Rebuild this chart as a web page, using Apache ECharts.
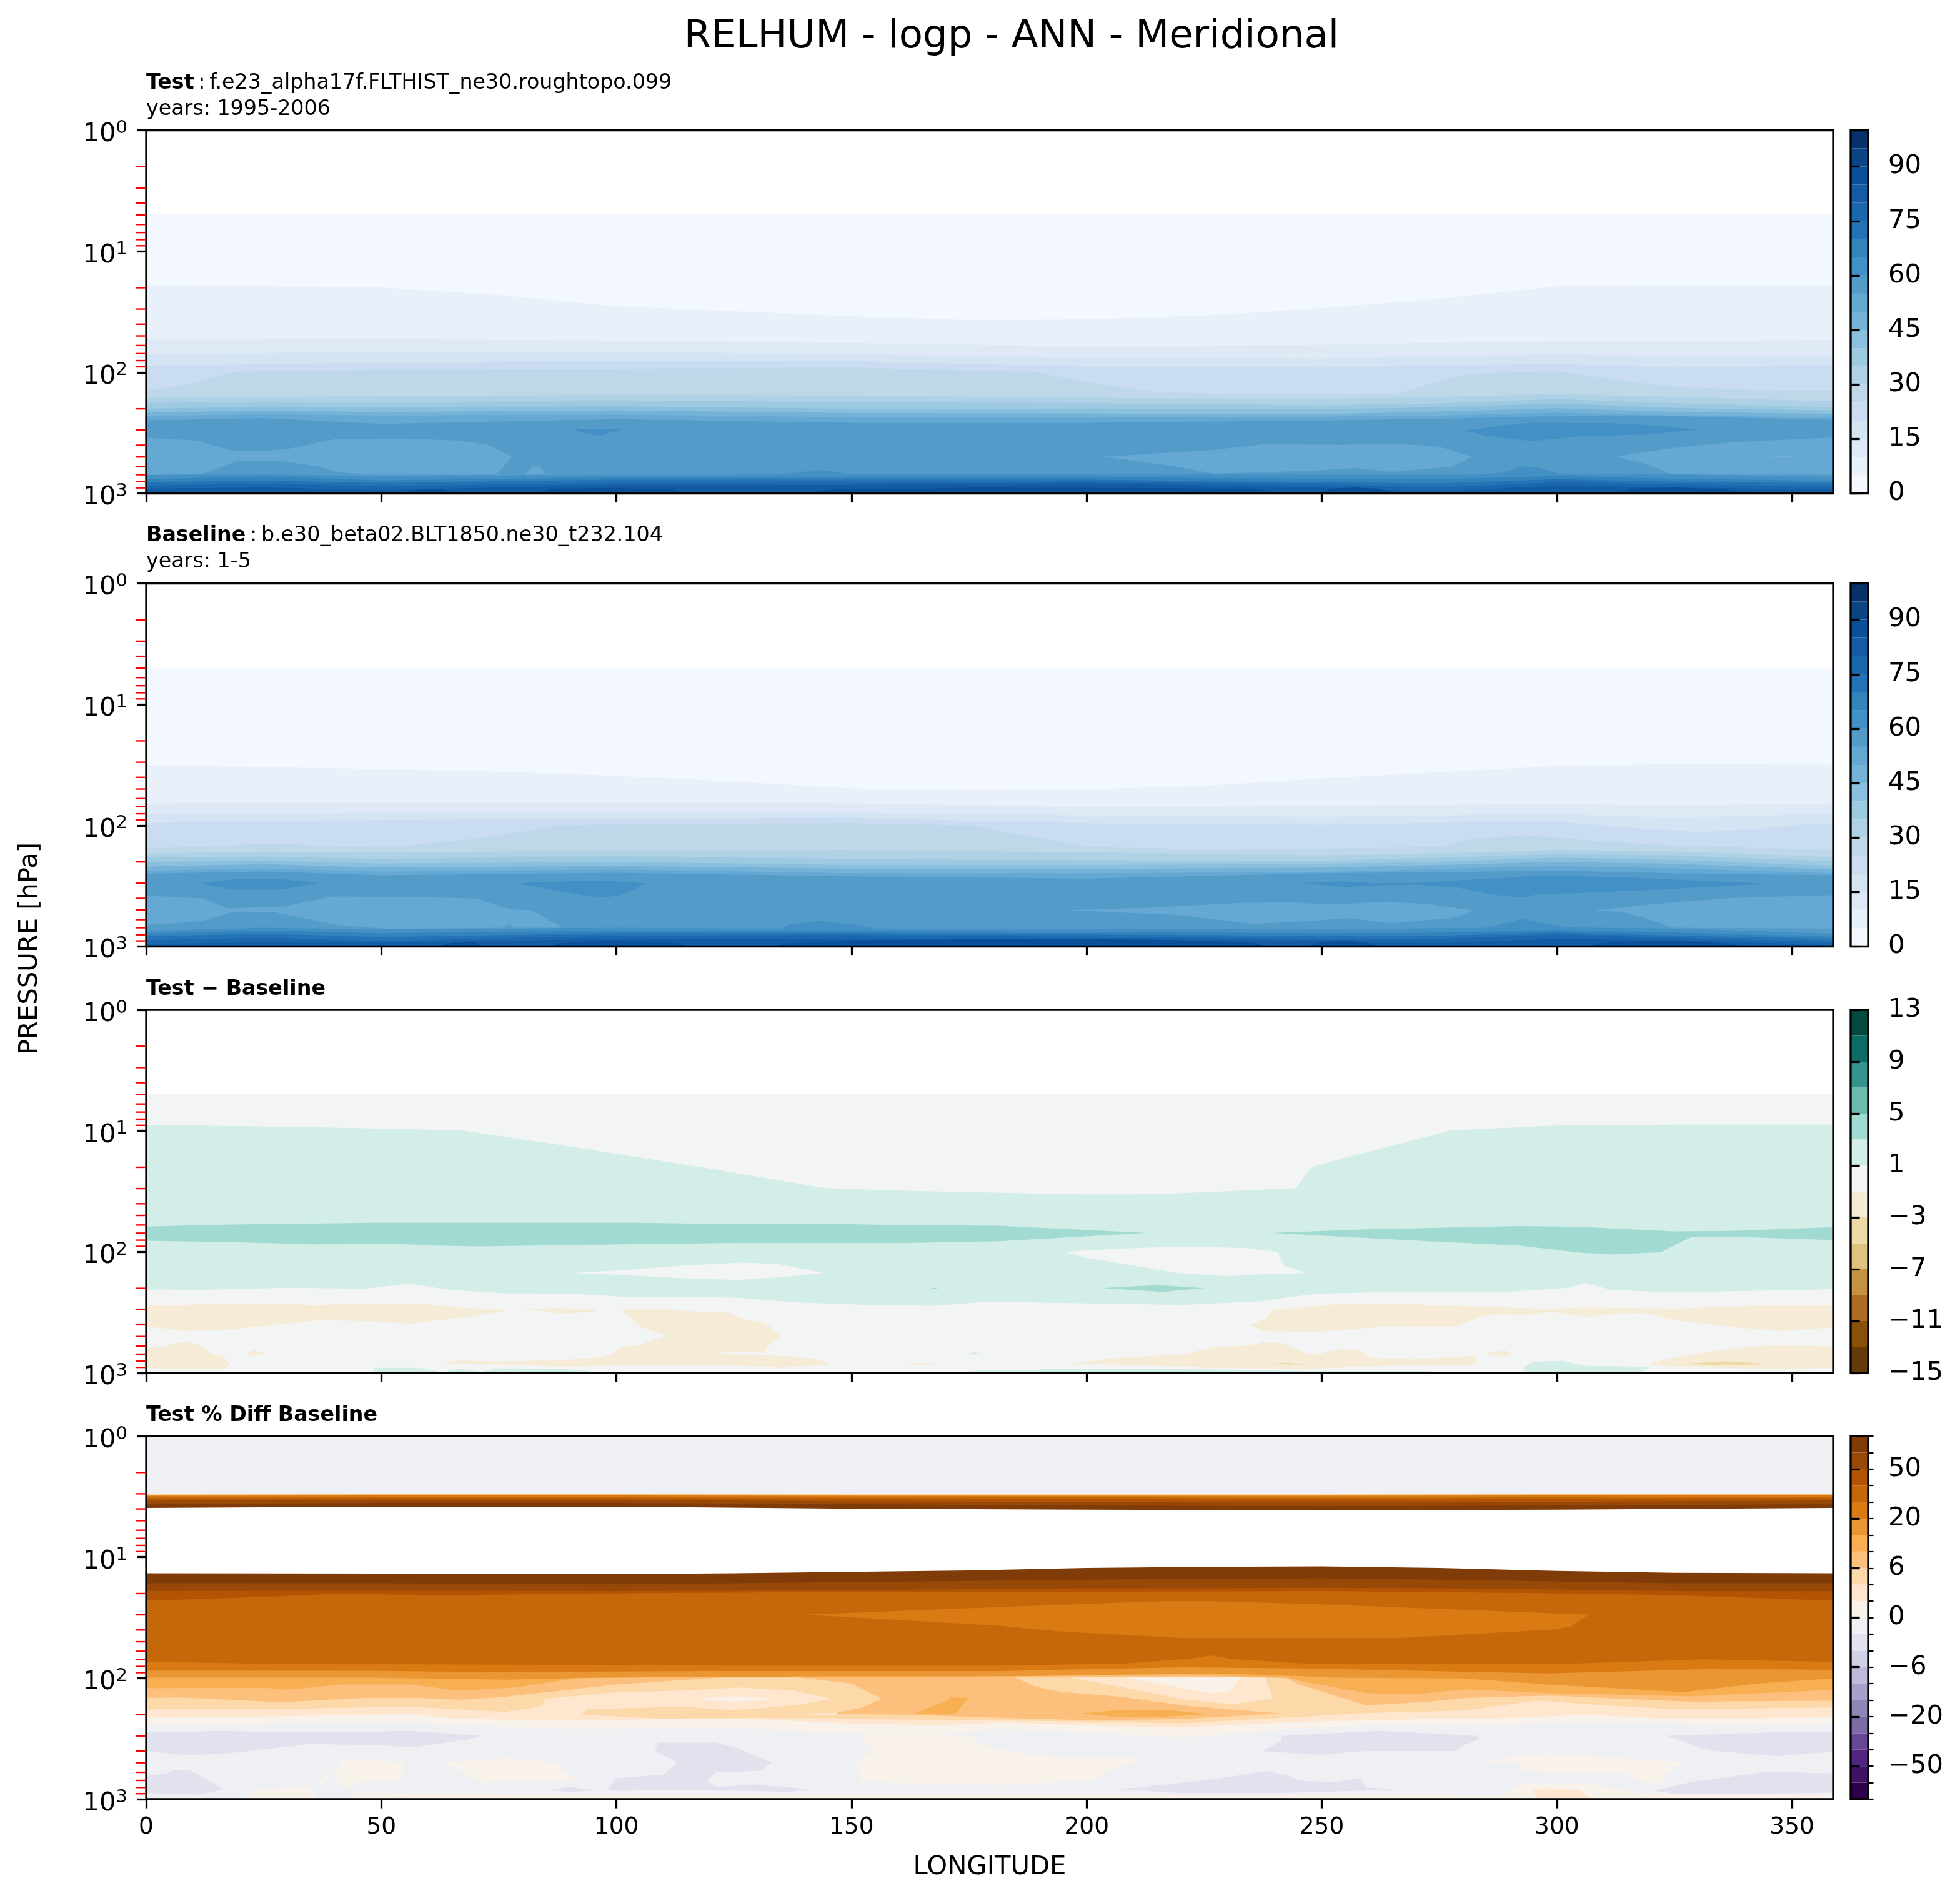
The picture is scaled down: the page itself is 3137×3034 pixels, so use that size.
<!DOCTYPE html>
<html><head><meta charset="utf-8">
<style>html,body{margin:0;background:#fff}#c{width:3137px;height:3034px}</style>
<script src="https://cdn.jsdelivr.net/npm/echarts@6/dist/echarts.min.js"></script>
</head><body><div id="c"></div>
<script>
// ---- contour levels and colours (bottom to top of each colourbar)
const rhLevels = [0,5,10,15,20,25,30,35,40,45,50,55,60,65,70,75,80,85,90,95,100];
const rhLabels = [0,15,30,45,60,75,90];
const rhColors = ['#f3f8fe','#e8f0f9','#dee9f5','#d5e4f3','#cadcf1','#bed8ea','#afd1e6','#9ecae1','#8abfdd','#75b2d8','#64a8d3','#539cca','#4290c5','#3383bd','#2373b6','#1a67ae','#135ba5','#0a4f9a','#0b4585','#08306b'];
const diffLevels = [-15,-13,-11,-9,-7,-5,-3,-1,1,3,5,7,9,11,13];
const diffLabels = [-15,-11,-7,-3,1,5,9,13];
const diffColors = ['#643c08','#8a500a','#ad6d22','#c6923f','#dfc27d','#eedaa7','#f5ebd6','#f3f5f4','#d3ede8','#a1dad0','#6bbbad','#34948c','#0a6c65','#024a3f'];
const pctLevels = [-100,-75,-50,-40,-30,-20,-15,-10,-6,-4,-2,0,2,4,6,10,15,20,30,40,50,75,100];
const pctLabels = [-50,-20,-6,0,6,20,50];
const pctColors = ['#2d004b','#3e1264','#542481','#674698','#7c6ba5','#8e86b7','#a8a0cb','#bdbadb','#d0d1e6','#e1e2ee','#eef0f3','#f9f2ea','#fee6cf','#fdd8a9','#fdc07c','#f8af52','#ea9632','#d97b12','#c5680a','#b25404','#994907','#7f3b08'];

const xTicks = [0,50,100,150,200,250,300,350];
const redMinorP = [2,3,4,5,6,7,8,9,20,30,40,50,60,70,80,90,200,300,400,500,600,700,800,900];
const LONMAX = 358.75;
const K = [0,25,50,100,150,200,250,275,300,325,LONMAX];
const K15 = [0,25,50,75,100,125,150,175,200,225,250,275,300,325,LONMAX];
const E = [0,LONMAX];

// Each layer: [band index, 'b' = filled down to surface / 'p' = closed lobe, longitudes, log10(pressure hPa)]
const testLayers = [
 [0,'b',E,[.694,.694]],
 [1,'b',K15,[1.278,1.288,1.299,1.361,1.454,1.495,1.536,1.567,1.562,1.531,1.469,1.392,1.288,1.278,1.278]],
 [2,'b',K,[1.729,1.729,1.726,1.738,1.758,1.784,1.772,1.755,1.746,1.741,1.732]],
 [3,'b',K,[1.855,1.841,1.832,1.832,1.850,1.884,1.887,1.867,1.853,1.867,1.867]],
 [4,'b',K,[1.946,1.932,1.918,1.905,1.906,1.953,1.961,1.944,1.930,1.961,1.944]],
 [5,'b',[0,7,18.6,25,50,100,150,175,189,200,214,227,250,266,275,281.6,300,311.6,325,350,LONMAX],[2.147,2.116,1.996,1.991,1.980,1.970,1.961,1.984,1.996,2.082,2.159,2.177,2.180,2.177,2.073,2.013,1.991,2.056,2.121,2.154,2.156]],
 [6,'b',K,[2.211,2.202,2.197,2.185,2.190,2.211,2.220,2.202,2.180,2.202,2.240]],
 [7,'b',K,[2.254,2.242,2.249,2.232,2.245,2.254,2.271,2.257,2.220,2.254,2.288]],
 [8,'b',K,[2.300,2.283,2.288,2.280,2.300,2.300,2.306,2.288,2.257,2.294,2.314]],
 [9,'b',K,[2.331,2.318,2.328,2.314,2.335,2.340,2.345,2.323,2.297,2.326,2.343]],
 [10,'b',K,[2.362,2.345,2.357,2.349,2.371,2.374,2.366,2.357,2.331,2.357,2.371]],
 [11,'b',K,[2.397,2.378,2.426,2.387,2.417,2.417,2.397,2.383,2.361,2.362,2.392]],
 [10,'p',[0,10.9,18,25,30,40.5,55,66.6,72.6,77.7,76,74.4,46.5,40.5,37,28.7,19.2,12,0],[2.541,2.564,2.645,2.650,2.633,2.550,2.547,2.564,2.598,2.696,2.779,2.844,2.844,2.822,2.779,2.731,2.736,2.839,2.848]],
 [10,'p',[80.5,82,83.5,85],[2.844,2.788,2.770,2.844]],
 [10,'p',[203.5,227,237.4,254.3,266,275,282,277.8,264.8,257,247.8,227,217.9],[2.696,2.641,2.595,2.598,2.590,2.615,2.696,2.779,2.822,2.791,2.813,2.836,2.770]],
 [10,'p',[312.7,324.7,337.7,LONMAX,LONMAX,324.7,319.4],[2.696,2.624,2.576,2.538,2.844,2.844,2.762]],
 [9,'p',[345,348,350.5,348],[2.696,2.689,2.696,2.707]],
 [12,'p',[280.4,289.5,294.7,311.6,319.4,330.2,319.4,305,294.7,289.5,284.5],[2.478,2.435,2.417,2.421,2.435,2.473,2.512,2.529,2.567,2.547,2.521]],
 [12,'p',[90.9,101,96.5,93],[2.469,2.469,2.524,2.504]],
 [12,'b',[0,25,50,100,135,143,150,200,250,285,290,292,296,300,305,325,LONMAX],[2.848,2.844,2.856,2.848,2.844,2.805,2.844,2.844,2.844,2.844,2.815,2.774,2.788,2.834,2.844,2.844,2.865]],
 [13,'b',K,[2.882,2.860,2.891,2.868,2.865,2.865,2.879,2.882,2.856,2.879,2.896]],
 [14,'b',K,[2.908,2.896,2.913,2.886,2.887,2.886,2.908,2.917,2.882,2.903,2.917]],
 [15,'b',K,[2.934,2.920,2.939,2.913,2.908,2.903,2.925,2.951,2.908,2.925,2.942]],
 [16,'b',K,[2.960,2.951,2.972,2.930,2.930,2.917,2.951,2.985,2.934,2.951,2.968]],
 [17,'b',[0,55,58,62,66,83,86,100,112,115,140,143,147,160,175,200,230,237,240,250,252,257,262,266,312,316,325,336,340,LONMAX],[3,3,2.966,2.960,3,3,2.960,2.956,2.966,3,3,2.982,2.960,2.966,2.951,2.954,2.960,2.966,3,3,2.960,2.951,2.960,3,3,2.960,2.951,2.966,3,3]],
];

const baseLayers = [
 [0,'b',E,[.697,.697]],
 [1,'b',K15,[1.503,1.517,1.534,1.556,1.589,1.637,1.694,1.706,1.703,1.672,1.611,1.560,1.508,1.494,1.499]],
 [2,'b',K,[1.818,1.813,1.806,1.806,1.818,1.847,1.839,1.830,1.823,1.835,1.818]],
 [3,'b',K,[1.909,1.904,1.895,1.887,1.895,1.916,1.930,1.916,1.904,1.938,1.901]],
 [4,'b',[0,25,50,100,150,200,250,275,300,320,331,344,351,LONMAX],[1.981,1.961,1.956,1.940,1.938,1.981,1.995,1.978,1.968,2.030,2.055,2.024,1.995,1.981]],
 [5,'b',[0,12,23.3,28.7,40.5,53.6,65.4,75,88,100,150,176.3,181.4,201,227,250,275,281.7,293.4,311.6,325,LONMAX],[2.185,2.179,2.154,2.150,2.178,2.174,2.128,2.085,1.999,1.990,1.981,1.999,2.047,2.179,2.197,2.191,2.179,2.110,2.081,2.136,2.167,2.202]],
 [6,'b',K,[2.231,2.217,2.226,2.205,2.202,2.222,2.248,2.231,2.202,2.214,2.260]],
 [7,'b',K,[2.265,2.257,2.274,2.253,2.277,2.288,2.291,2.265,2.236,2.248,2.295]],
 [8,'b',K,[2.303,2.291,2.314,2.300,2.326,2.326,2.317,2.300,2.265,2.283,2.334]],
 [9,'b',K,[2.339,2.320,2.348,2.334,2.357,2.360,2.348,2.326,2.300,2.317,2.364]],
 [10,'b',K,[2.374,2.355,2.382,2.364,2.394,2.394,2.386,2.360,2.334,2.355,2.394]],
 [11,'b',K,[2.398,2.381,2.412,2.391,2.420,2.438,2.394,2.386,2.374,2.394,2.412]],
 [10,'p',[0,12,17.4,28.7,39.4,58.3,70.2,77.3,82,88,88,77.9,77.3,76,51.2,40.5,31,27.5,18,12,0],[2.579,2.604,2.682,2.673,2.587,2.592,2.604,2.691,2.701,2.833,2.845,2.845,2.816,2.845,2.856,2.821,2.747,2.718,2.718,2.790,2.825]],
 [10,'p',[195.5,214,233.5,242.6,253,263.5,272.6,282.4,277.8,264.8,255.6,247.8,235.4,219.2],[2.701,2.678,2.639,2.635,2.653,2.629,2.649,2.704,2.765,2.808,2.765,2.790,2.813,2.739]],
 [10,'p',[308,324.7,337.7,LONMAX,LONMAX,324.7,319.4,314.2],[2.701,2.635,2.598,2.575,2.851,2.845,2.773,2.718]],
 [12,'p',[11.7,18,28.7,36.5,28.7,18],[2.477,2.446,2.443,2.477,2.529,2.529]],
 [12,'p',[78.8,90.4,99.8,106.5,101,97.5,92.7],[2.477,2.460,2.460,2.477,2.575,2.596,2.575]],
 [12,'p',[245.9,254.3,262,272.6,280.4,289.5,294.7,311.6,324.7,344.8,324.7,305,295.9,292.7,285.6,279,269.9,262,255],[2.477,2.463,2.477,2.472,2.450,2.432,2.417,2.424,2.446,2.481,2.524,2.558,2.567,2.596,2.567,2.515,2.489,2.494,2.510]],
 [12,'b',[0,25,50,100,135,137,143,150,155,200,250,285,290,292.5,296,302,325,LONMAX],[2.870,2.845,2.859,2.845,2.851,2.816,2.790,2.816,2.851,2.856,2.859,2.845,2.799,2.770,2.799,2.842,2.851,2.894]],
 [13,'b',K,[2.894,2.868,2.890,2.868,2.873,2.880,2.890,2.885,2.863,2.885,2.919]],
 [14,'b',K,[2.916,2.894,2.923,2.890,2.890,2.899,2.914,2.911,2.885,2.911,2.937]],
 [15,'b',K,[2.949,2.928,2.954,2.911,2.907,2.919,2.937,2.937,2.902,2.928,2.962]],
 [16,'b',K,[2.983,2.962,2.971,2.937,2.937,2.937,2.954,2.971,2.937,2.949,2.988]],
 [17,'b',[0,62,65,70,71,86,88,98,108,113,115,133,137,143,150,165,185,210,225,236,238,247,250,255,260,262,307,309,320,330,337,340,LONMAX],[3,3,2.971,2.962,3,3,2.971,2.954,2.962,2.971,3,3,2.971,2.966,2.950,2.945,2.937,2.942,2.954,2.971,3,3,2.962,2.949,2.971,3,3,2.971,2.954,2.959,2.980,3,3]],
];

const diffLayers = [
 [7,'b',E,[.695,.695]],
 [8,'b',[0,12,31,46.5,67.2,88,117.6,144.3,161.5,181.4,199.6,214,227,244.5,247.8,259.5,277.5,298.6,327.2,LONMAX],[.953,.957,.967,.979,.996,1.117,1.297,1.473,1.495,1.512,1.526,1.525,1.504,1.473,1.297,1.177,.996,.958,.948,.948]],
 [9,'p',[0,18,38.2,47.6,104.6,120,144.9,161.5,181.4,212.6,181.4,161.5,125,88,71,62,53,36,18,0],[1.791,1.774,1.764,1.759,1.759,1.769,1.769,1.779,1.784,1.843,1.912,1.926,1.926,1.944,1.955,1.948,1.934,1.938,1.920,1.908]],
 [9,'p',[239.4,259.5,292,305,324.7,337.7,LONMAX,LONMAX,337.7,328.5,322,311.6,305,292,272.6],[1.843,1.814,1.786,1.793,1.831,1.827,1.796,1.903,1.874,1.879,2.003,2.020,2.006,1.948,1.912]],
 [7,'p',[90.7,102,114,126,134,141,144.3,135.5,126,114,102],[2.175,2.149,2.115,2.089,2.098,2.149,2.175,2.206,2.232,2.218,2.192]],
 [7,'p',[195,207.5,220.7,234,240.6,242,246.7,238,230,219.4,211.5,199.6],[2.000,1.972,1.955,1.969,2.000,2.115,2.175,2.184,2.201,2.175,2.123,2.046]],
 [9,'p',[203.3,215,225,216],[2.299,2.275,2.299,2.330]],
 [9,'p',[166.8,168.4,167.4],[2.298,2.298,2.308]],
 [7,'b',[0,12,30,46.5,56,64.3,76,90.4,102,126,137.7,157,167.4,176.9,181.4,220.7,236.7,249,272.6,289.5,302.5,306,311.6,324.7,LONMAX],[2.309,2.313,2.296,2.304,2.261,2.313,2.342,2.344,2.373,2.378,2.416,2.442,2.445,2.416,2.413,2.438,2.407,2.344,2.327,2.330,2.296,2.258,2.313,2.335,2.308]],
 [6,'p',[0,13,18,31,35.7,45,57.8,66.6,77.3,69,64.3,56.5,47.6,36.4,30,18,8.5,0],[2.442,2.433,2.425,2.428,2.440,2.425,2.425,2.459,2.480,2.537,2.554,2.593,2.571,2.566,2.592,2.640,2.654,2.614]],
 [6,'p',[77.3,87.5,96.2,94.4,87.5,82],[2.480,2.463,2.476,2.498,2.510,2.476]],
 [6,'p',[101,109.3,117.6,124,127,131.9,135,132.5,131.3,126,120,129.5,137.7,142.5,145.8,135.4,126,108,102,89,76,63,66,76,90.4,96.2,99.2,100.4,104.6,110.5,105,102.7],[2.476,2.471,2.494,2.502,2.554,2.592,2.700,2.769,2.833,2.821,2.843,2.850,2.864,2.884,2.927,2.958,2.941,2.941,2.936,2.950,2.929,2.924,2.898,2.907,2.889,2.872,2.846,2.795,2.769,2.695,2.614,2.537]],
 [6,'p',[0,4.4,5.6,9.1,11.5,13.9,16.2,17.7,16.8,9.7,5,0],[2.786,2.781,2.757,2.743,2.778,2.846,2.855,2.924,2.963,2.970,2.967,2.958]],
 [6,'p',[21.3,22.8,25.5,22.8],[2.846,2.812,2.838,2.858]],
 [6,'p',[161,164,170,164],[2.927,2.915,2.927,2.936]],
 [8,'p',[174,176,178],[2.846,2.829,2.846]],
 [6,'p',[239.4,253,266,280.4,298.6,306,324.7,344,LONMAX,LONMAX,348.1,337.7,324.7,319.4,315.5,306,298.6,292.7,289.5,283.6,281,278.4,263.5,249,237.4,234.8,238.4],[2.481,2.433,2.428,2.447,2.471,2.459,2.468,2.442,2.438,2.623,2.654,2.623,2.562,2.511,2.502,2.537,2.494,2.528,2.511,2.537,2.580,2.619,2.617,2.660,2.654,2.602,2.545]],
 [6,'p',[195.7,207.5,220.7,227,234.8,237.4,242,246.5,249,253.7,258.2,260,268.6,281.7,282.7,282.7,264.8,246.5,225.7,207.5],[2.927,2.872,2.846,2.786,2.774,2.747,2.755,2.838,2.846,2.803,2.812,2.872,2.889,2.860,2.846,2.932,2.941,2.967,2.958,2.932]],
 [6,'p',[319.4,324.7,337.7,346.9,LONMAX,LONMAX,346.9,324.7],[2.927,2.872,2.795,2.769,2.781,2.958,2.967,2.950]],
 [5,'p',[326,336,346,336],[2.927,2.903,2.927,2.936]],
 [5,'p',[238,243,246.5],[2.927,2.915,2.932]],
 [6,'p',[284.3,288.8,290.3,288.8],[2.843,2.812,2.841,2.867]],
 [8,'p',[293,295,301,306,320,318,293],[2.950,2.907,2.901,2.941,2.950,2.993,2.993]],
 [8,'p',[48.5,58.3,63,66.6,71.3,74.2,88,94,94,48.5],[2.958,2.958,2.993,2.964,2.990,2.962,2.964,2.984,3,3]],
 [8,'p',[190,227,247,273,273,190],[2.967,2.970,2.985,2.985,3,3]],
 [8,'p',[172,178,199,199,172],[3,2.975,2.975,3,3]],
];

const pctLayers = [
 [10,'b',E,[0,0]],
 [13,'b',E,[.477,.477]],
 [16,'b',[0,50,100,150,200,250,300,LONMAX],[.486,.483,.483,.486,.486,.486,.483,.483]],
 [17,'b',[0,50,100,150,200,250,300,LONMAX],[.494,.490,.490,.494,.494,.494,.490,.490]],
 [18,'b',[0,50,100,150,200,250,300,LONMAX],[.506,.502,.502,.506,.506,.508,.506,.502]],
 [19,'b',[0,50,100,150,200,250,300,LONMAX],[.518,.514,.514,.518,.522,.522,.518,.514]],
 [20,'b',[0,50,100,150,200,250,300,LONMAX],[.534,.528,.528,.539,.543,.547,.543,.532]],
 [21,'b',[0,50,100,150,200,250,300,LONMAX],[.563,.553,.553,.563,.573,.579,.573,.563]],
 [-1,'b',[0,50,100,150,200,250,300,LONMAX],[.594,.583,.583,.600,.608,.614,.608,.594]],
 [21,'b',[0,50,100,125,150,175,200,225,250,275,300,325,LONMAX],[1.134,1.136,1.141,1.134,1.122,1.110,1.090,1.081,1.077,1.090,1.114,1.130,1.134]],
 [20,'b',[0,50,100,125,150,175,200,225,250,275,300,325,LONMAX],[1.216,1.216,1.220,1.216,1.206,1.196,1.186,1.179,1.175,1.186,1.200,1.216,1.216]],
 [19,'b',[0,50,100,125,150,175,200,225,250,275,300,325,LONMAX],[1.281,1.277,1.281,1.277,1.273,1.265,1.257,1.257,1.253,1.257,1.267,1.281,1.281]],
 [18,'b',[0,25,40,65,100,150,181,250,300,325,LONMAX],[1.361,1.328,1.304,1.314,1.298,1.288,1.288,1.281,1.298,1.314,1.359]],
 [17,'p',[140.4,181.4,215.7,227,250,306.8,303,299,266,220.7,194,181.4],[1.475,1.412,1.365,1.365,1.390,1.475,1.573,1.600,1.669,1.669,1.614,1.567]],
 [17,'b',[0,23,61,126,181,207.5,222,226.5,230.5,246.5,298.6,331,LONMAX],[1.865,1.879,1.886,1.896,1.896,1.879,1.839,1.812,1.839,1.879,1.886,1.845,1.865]],
 [16,'b',[0,48,73,118,181,220,246,298,331,LONMAX],[1.937,1.939,1.951,1.941,1.941,1.910,1.920,1.961,1.926,1.930]],
 [15,'b',[0,48,77,95,181,227,240,253,280,298,327,343,LONMAX],[1.996,1.996,2.012,1.996,1.986,1.961,1.975,1.996,2.002,2.053,2.114,2.043,2.002]],
 [14,'b',[0,25.1,29.9,41.7,56,66.6,78.5,91.6,114,181.4,220.5,242.6,246.5,259.5,270,280.4,298.6,328.5,LONMAX],[2.083,2.079,2.097,2.052,2.052,2.103,2.077,2.001,1.991,1.987,1.970,1.995,2.032,2.123,2.134,2.093,2.123,2.150,2.097]],
 [13,'b',[0,7.3,28.7,46.5,58.3,66.6,76.1,99.9,122.4,238,242.6,245.2,259.5,272.5,280.4,298.6,328.5,LONMAX],[2.164,2.160,2.199,2.164,2.164,2.179,2.154,2.052,1.995,1.995,2.001,2.052,2.225,2.195,2.164,2.144,2.195,2.185]],
 [14,'p',[136.6,149.7,156.5,152,146.1,135.4,161.5,181.4,200.9,220.5,241,220.5,207.4,194.4,189.2,184.3],[1.987,2.042,2.170,2.246,2.287,2.293,2.301,2.327,2.348,2.338,2.291,2.225,2.154,2.113,2.072,1.987]],
 [15,'p',[163.3,169.8,171,174.8,172.2,171],[2.293,2.195,2.160,2.164,2.293,2.301]],
 [15,'p',[198.7,207.4,217.9,225.9,215.3,206.1],[2.291,2.260,2.266,2.297,2.323,2.321]],
 [12,'p',[196.4,211.4,220.5,230.9,239.6,238],[1.995,2.103,2.174,2.215,2.170,1.995]],
 [11,'p',[208.1,226.3,230.2,232.8],[1.995,2.123,2.113,1.995]],
 [12,'b',[0,25.1,56,76.1,83.8,85,99.9,114.1,126,137.8,145.9,147.3,181.4,220.5,246.5,259.5,272.5,280.4,292,296,306.4,324.6,LONMAX],[2.256,2.256,2.236,2.280,2.236,2.170,2.117,2.103,2.077,2.103,2.170,2.338,2.348,2.372,2.317,2.287,2.276,2.266,2.205,2.185,2.215,2.256,2.242]],
 [13,'p',[92.5,93.9,114.1,124.8,137.8,145.9,152,146.1,135.4,161.5,143.8,129.5,109.3],[2.301,2.256,2.236,2.266,2.225,2.170,2.246,2.287,2.293,2.327,2.331,2.329,2.334]],
 [11,'p',[116.7,124.8,134.2,124.8],[2.170,2.150,2.170,2.195]],
 [11,'b',[0,25.1,56,66.6,90.4,126,149.7,168.6,181.4,200.9,220.5,246.5,272.5,292,306.4,324.6,LONMAX],[2.327,2.317,2.297,2.338,2.348,2.334,2.374,2.389,2.368,2.389,2.409,2.358,2.338,2.327,2.301,2.338,2.323]],
 [10,'b',[0,25.1,56,66.6,90.4,126,149.7,168.6,181.4,200.9,220.5,246.5,272.5,306.4,LONMAX],[2.389,2.374,2.358,2.389,2.419,2.409,2.460,2.460,2.415,2.450,2.491,2.409,2.382,2.368,2.382]],
 [9,'p',[0,15.6,34.6,56,65.5,71.4,67.8,56.6,48.9,34.6,18,8.5,0],[2.450,2.436,2.450,2.436,2.460,2.476,2.511,2.572,2.552,2.546,2.619,2.637,2.603]],
 [9,'p',[108.8,121.2,126,133,130.7,121.2,119.2,121.2,129.5,141.4,136.6,126,114.1,99.9,98.1,99.9,110,112.9,108.2],[2.531,2.531,2.582,2.695,2.766,2.776,2.848,2.899,2.878,2.919,2.939,2.929,2.925,2.929,2.919,2.827,2.797,2.695,2.603]],
 [9,'p',[0,4.4,5.6,9.1,13.3,16.6,10.9,0],[2.807,2.790,2.762,2.756,2.848,2.919,2.964,2.950]],
 [9,'p',[85.6,90.4,95.7,90.4],[2.925,2.899,2.925,2.939]],
 [9,'p',[241.3,262.1,283,283.6,280.4,278.4,259.5,249.1,237.4,241.3],[2.476,2.436,2.476,2.501,2.552,2.603,2.603,2.633,2.603,2.521]],
 [9,'p',[323.3,344.2,LONMAX,LONMAX,346.8,332.4],[2.476,2.450,2.446,2.607,2.644,2.599]],
 [11,'p',[152,174.6,178.1,181.4,194.4,210,211.6,206.1,200.9,181.4,152,150.8,154.4],[2.470,2.470,2.552,2.593,2.654,2.654,2.684,2.735,2.848,2.884,2.858,2.695,2.603]],
 [9,'p',[206.8,224.4,233.5,238,242.6,245.2,253,258.2,259.5,266,259.5,240,220.5],[2.919,2.848,2.797,2.766,2.797,2.848,2.858,2.827,2.905,2.919,2.929,2.950,2.950]],
 [9,'p',[320.7,328.5,344.2,LONMAX,LONMAX,337.6,324.6],[2.929,2.858,2.776,2.786,2.946,2.956,2.954]],
 [11,'p',[290.8,297.3,311.6,326.6,322.7,322.7,318.1,314.2,301.2,292.1,292.1,283],[2.644,2.619,2.654,2.695,2.807,2.868,2.858,2.776,2.786,2.756,2.705,2.695]],
 [11,'p',[41.1,48.9,54.8,54.2,45.3,43,39.4,36.4,37.6,40.6],[2.688,2.678,2.695,2.848,2.858,2.919,2.797,2.919,2.807,2.786]],
 [11,'p',[63.3,76.1,86.8,91.6,71.4,66.6],[2.701,2.658,2.695,2.848,2.864,2.756]],
 [11,'p',[21,22.8,34.6,36.4],[3,2.929,2.888,3]],
 [11,'p',[44.1,78.5,181.4,288.2,292.1,305.1,318.1,LONMAX,LONMAX,44.1],[2.943,2.964,2.964,2.970,2.878,2.868,2.950,2.970,3,3]],
 [12,'p',[294.7,298.6,305.1,307,296],[2.919,2.909,2.929,3,3]],
];

// ---- layout
const W = 3137, H = 3034;
const PX = {left:234, width:2700, height:581};
const panelTops = [208.5, 933.5, 1616, 2298];
const CB = {left:2962, width:28};
const LW = 3.3, FONT = 'DejaVu Sans';
const panels = [
 {layers:testLayers, colors:rhColors, levels:rhLevels, labels:rhLabels, minor:false},
 {layers:baseLayers, colors:rhColors, levels:rhLevels, labels:rhLabels, minor:false},
 {layers:diffLayers, colors:diffColors, levels:diffLevels, labels:diffLabels, minor:false},
 {layers:pctLayers, colors:pctColors, levels:pctLevels, labels:pctLabels, minor:true},
];
const fmtLevel = v => String(v).replace('-', '\u2212');

const grids=[], xAxes=[], yAxes=[], series=[];
function frameSeries(xi, yi){
  return {type:'custom', xAxisIndex:xi, yAxisIndex:yi, z:20, silent:true, data:[[0,0]],
    renderItem:(p,api)=>{const c=p.coordSys;return {type:'rect',shape:{x:c.x,y:c.y,width:c.width,height:c.height},
      style:{fill:'none',stroke:'#000',lineWidth:LW}};}};
}
panels.forEach((pn,i)=>{
  const top=panelTops[i];
  grids.push({left:PX.left,top,width:PX.width,height:PX.height,containLabel:false});
  xAxes.push({type:'value',gridIndex:i,min:0,max:LONMAX,z:10,
    axisLine:{show:false},splitLine:{show:false},
    axisTick:{show:true,length:14.6,customValues:xTicks,lineStyle:{width:LW,color:'#000'}},
    axisLabel:{show:i===3,customValues:xTicks,fontFamily:FONT,fontSize:37.5,color:'#000',margin:26,showMaxLabel:true},
    ...(i===3?{name:'LONGITUDE',nameLocation:'middle',nameGap:88,nameTextStyle:{fontFamily:FONT,fontSize:41.7,color:'#000'}}:{})
  });
  yAxes.push({type:'log',logBase:10,gridIndex:i,min:1,max:1000,inverse:true,z:10,
    axisLine:{show:false},splitLine:{show:false},minorTick:{show:false},
    axisTick:{show:true,length:14.6,lineStyle:{width:LW,color:'#000'}},
    axisLabel:{margin:30,color:'#000',fontFamily:FONT,fontSize:41.7,padding:[8,0,0,0],
      formatter:v=>'{b|10}{s|'+Math.round(Math.log10(v))+'}',
      rich:{b:{fontFamily:FONT,fontSize:41.7,color:'#000',padding:[6,0,0,0]},s:{fontFamily:FONT,fontSize:29,color:'#000',padding:[0,0,14,0]}}}
  });
  const yi=yAxes.length-1, xi=xAxes.length-1;
  series.push({type:'custom',xAxisIndex:xi,yAxisIndex:yi,z:2,silent:true,
    encode:{x:0,y:1},data:pn.layers.map(()=>[0,1]),
    renderItem:(p,api)=>{
      const [band,kind,lons,logp]=pn.layers[p.dataIndex];
      const pts=lons.map((lon,k)=>api.coord([lon,Math.pow(10,logp[k])]));
      if(kind==='b'){pts.push(api.coord([lons[lons.length-1],1000]));pts.push(api.coord([lons[0],1000]));}
      return {type:'polygon',shape:{points:pts},style:{fill:band<0?'#ffffff':pn.colors[band]}};
    }});
  series.push({type:'custom',xAxisIndex:xi,yAxisIndex:yi,z:3,silent:true,encode:{x:0,y:1},
    data:redMinorP.map(v=>[0,v]),
    renderItem:(p,api)=>{const c=api.coord([0,api.value(1)]);
      return {type:'line',shape:{x1:c[0]-2,y1:c[1],x2:c[0]-17,y2:c[1]},style:{stroke:'#ff0000',lineWidth:2.4}};}});
  series.push(frameSeries(xi,yi));
});
panels.forEach((pn,i)=>{
  const g=grids.length; const top=panelTops[i];
  grids.push({left:CB.left,top,width:CB.width,height:PX.height});
  xAxes.push({type:'value',gridIndex:g,min:0,max:1,show:false});
  const xi=xAxes.length-1;
  const cats=pn.levels.map(String);
  const isLab=(idx)=>pn.labels.indexOf(pn.levels[idx])>=0;
  yAxes.push({type:'category',gridIndex:g,data:cats,boundaryGap:false,position:'right',z:10,
    axisLine:{show:false},splitLine:{show:false},
    axisTick:{show:true,length:14.6,interval:(idx)=>isLab(idx),lineStyle:{width:LW,color:'#000'}},
    axisLabel:{margin:32,interval:(idx)=>isLab(idx),formatter:v=>fmtLevel(v),color:'#000',fontFamily:FONT,fontSize:41.7,align:'left',padding:[8,0,0,0]}});
  const yi=yAxes.length-1;
  if(pn.minor){
    yAxes.push({type:'category',gridIndex:g,data:cats,boundaryGap:false,position:'right',z:9,
      axisLine:{show:false},splitLine:{show:false},axisLabel:{show:false},
      axisTick:{show:true,length:8.5,interval:0,lineStyle:{width:2.2,color:'#000'}}});
  }
  series.push({type:'custom',xAxisIndex:xi,yAxisIndex:yi,z:2,silent:true,encode:{x:0,y:1},
    data:pn.colors.map((c,k)=>[0,k]),
    renderItem:(p,api)=>{const k=p.dataIndex;const a=api.coord([0,k]),b=api.coord([1,k+1]);
      return {type:'rect',shape:{x:a[0],y:b[1],width:b[0]-a[0],height:a[1]-b[1]},style:{fill:pn.colors[k]}};}});
  series.push(frameSeries(xi,yi));
});

const sub=(top,bold,rest,years)=>({left:234,top,textStyle:{fontWeight:'normal',rich:{
   b:{fontFamily:FONT,fontWeight:'bold',fontSize:33.3,color:'#000',lineHeight:42},
   n:{fontFamily:FONT,fontWeight:'normal',fontSize:33.3,color:'#000',lineHeight:42}}},
   text:'{b|'+bold+'}'+(rest?'{n|'+rest+'}':'')+(years?'\n{n|'+years+'}':''),padding:0});
const titles=[
 {text:'RELHUM - logp - ANN - Meridional',left:1619,top:28,textAlign:'center',padding:0,
  textStyle:{fontFamily:FONT,fontSize:62.5,fontWeight:'normal',color:'#000'}},
 sub(112,'Test','\u2009:\u2009f.e23_alpha17f.FLTHIST_ne30.roughtopo.099','years: 1995-2006'),
 sub(836,'Baseline','\u2009:\u2009b.e30_beta02.BLT1850.ne30_t232.104','years: 1-5'),
 sub(1562,'Test \u2212 Baseline','',''),
 sub(2244,'Test % Diff Baseline','',''),
];
const chart=echarts.init(document.getElementById('c'),null,{width:W,height:H,renderer:'canvas',devicePixelRatio:1});
chart.setOption({animation:false,backgroundColor:'#fff',title:titles,grid:grids,xAxis:xAxes,yAxis:yAxes,series,
 graphic:[{type:'text',x:48,y:1518,rotation:Math.PI/2,style:{text:'PRESSURE [hPa]',fontFamily:FONT,fontSize:41.7,fill:'#000',textAlign:'center',textVerticalAlign:'middle'}}]});
</script></body></html>
